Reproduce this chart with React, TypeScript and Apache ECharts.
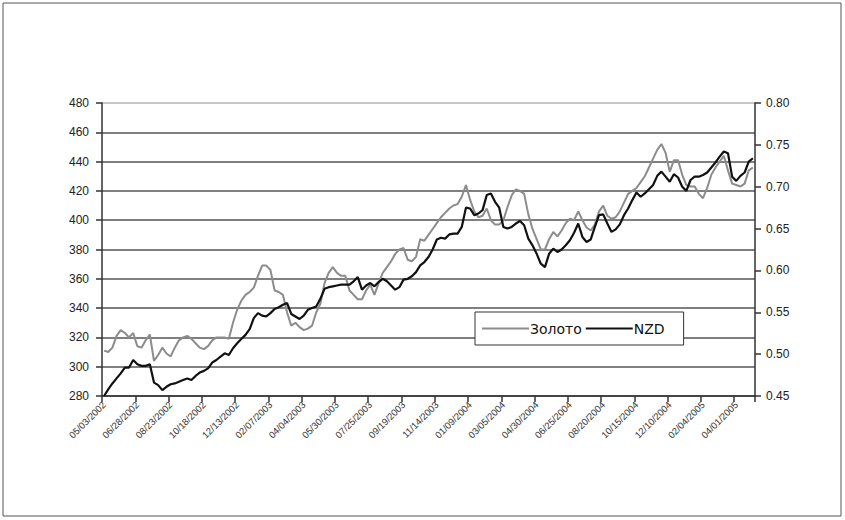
import React, { useEffect, useRef } from "react";
import * as echarts from "echarts";

// Weekly closing values, first week 05/03/2002
const gold: number[] = [
  311, 310, 313, 321, 325, 323, 320, 323, 314, 313,
  318, 322, 304, 308, 313, 309, 307, 313, 318, 320,
  321, 319, 316, 313, 312, 314, 318, 320, 320, 320,
  319, 330, 339, 345, 349, 351, 354, 362, 369, 369,
  366, 352, 351, 349, 337, 328, 330, 327, 325, 326,
  328, 337, 343, 357, 364, 368, 364, 362, 362, 352,
  349, 346, 346, 352, 356, 349, 357, 364, 368, 372,
  377, 380, 381, 373, 372, 375, 387, 386, 390, 394,
  398, 402, 405, 408, 410, 411, 416, 424, 414, 406,
  402, 403, 408, 400, 397, 397, 400, 409, 417, 421,
  420, 418, 404, 394, 387, 380, 380, 387, 392, 389,
  393, 398, 401, 400, 406, 400, 395, 393, 397, 406,
  410, 403, 401, 402, 406, 412, 418, 420, 422, 426,
  430, 436, 442, 448, 452, 446, 433, 441, 441, 431,
  424, 423, 423, 418, 415, 422, 431, 436, 440, 444,
  434, 425, 424, 423, 425, 434, 436,
];

const nzd: number[] = [
  0.450, 0.458, 0.465, 0.471, 0.477, 0.484, 0.484, 0.493, 0.488, 0.486,
  0.486, 0.488, 0.466, 0.463, 0.457, 0.461, 0.464, 0.465, 0.467, 0.469,
  0.471, 0.469, 0.474, 0.478, 0.480, 0.483, 0.490, 0.493, 0.497, 0.501,
  0.499, 0.507, 0.513, 0.518, 0.523, 0.530, 0.543, 0.549, 0.546, 0.545,
  0.549, 0.554, 0.556, 0.559, 0.561, 0.548, 0.545, 0.542, 0.546, 0.553,
  0.555, 0.557, 0.566, 0.578, 0.580, 0.581, 0.582, 0.583, 0.583, 0.583,
  0.587, 0.592, 0.577, 0.582, 0.585, 0.581, 0.586, 0.590, 0.587, 0.582,
  0.577, 0.580, 0.589, 0.590, 0.593, 0.598, 0.606, 0.610, 0.616, 0.625,
  0.637, 0.639, 0.638, 0.643, 0.644, 0.644, 0.652, 0.675, 0.674, 0.666,
  0.668, 0.672, 0.690, 0.692, 0.682, 0.675, 0.652, 0.650, 0.652, 0.656,
  0.659, 0.654, 0.638, 0.630, 0.620, 0.608, 0.604, 0.620, 0.626, 0.622,
  0.625, 0.630, 0.636, 0.645, 0.656, 0.640, 0.634, 0.637, 0.652, 0.666,
  0.667, 0.656, 0.646, 0.649, 0.655, 0.666, 0.674, 0.684, 0.693, 0.688,
  0.692, 0.697, 0.702, 0.713, 0.718, 0.712, 0.706, 0.715, 0.711, 0.700,
  0.695, 0.708, 0.712, 0.712, 0.714, 0.717, 0.723, 0.729, 0.736, 0.742,
  0.740, 0.712, 0.707, 0.713, 0.717, 0.730, 0.734,
];

const seriesNames = ["Золото", "NZD"];
const firstWeek = { year: 2002, month: 5, day: 3 };
const labelEvery = 8; // weeks between date labels

const pad = (n: number) => (n < 10 ? "0" + n : String(n));
const categories: string[] = gold.map((_, i) => {
  const d = new Date(Date.UTC(firstWeek.year, firstWeek.month - 1, firstWeek.day + i * 7));
  return `${pad(d.getUTCMonth() + 1)}/${pad(d.getUTCDate())}/${d.getUTCFullYear()}`;
});

const FONT = "'Liberation Sans', Arial, sans-serif";

export default function App() {
  const ref = useRef<HTMLDivElement>(null);

  useEffect(() => {
    document.body.style.margin = "0";
    if (!ref.current) return;
    const chart = echarts.init(ref.current, undefined, { renderer: "svg" });
    const splitColors = Array.from({ length: 11 }, (_, i) => (i === 10 ? "#b5b5b5" : "#555"));
    chart.setOption({
      animation: false,
      backgroundColor: "#fff",
      textStyle: { fontFamily: FONT },
      graphic: [
        {
          type: "rect",
          shape: { x: 3, y: 3, width: 838, height: 513 },
          style: { fill: "none", stroke: "#555", lineWidth: 1 },
          z: 0,
        },
      ],
      grid: { left: 102, top: 103, right: 90, bottom: 124, containLabel: false },
      legend: {
        left: 475,
        top: 312,
        orient: "horizontal",
        data: [
          { name: seriesNames[0], icon: "rect", itemStyle: { color: "#8c8c8c" } },
          { name: seriesNames[1], icon: "rect", itemStyle: { color: "#111" } },
        ],
        backgroundColor: "#fff",
        borderColor: "#333",
        borderWidth: 1,
        borderRadius: 0,
        padding: [8, 19, 8, 7],
        itemWidth: 47,
        itemHeight: 2,
        itemGap: 4,
        textStyle: {
          fontFamily: "'DejaVu Sans', sans-serif",
          fontSize: 14,
          color: "#111",
          lineHeight: 17,
          padding: [0, 0, 0, -4],
        },
      },
      xAxis: {
        type: "category",
        data: categories,
        boundaryGap: true,
        axisLine: { show: true, lineStyle: { color: "#333", width: 1.5 } },
        axisTick: { show: true, interval: labelEvery - 1, length: 6, lineStyle: { color: "#333", width: 1.5 } },
        axisLabel: {
          interval: labelEvery - 1,
          rotate: 45,
          fontSize: 9.5,
          color: "#333",
          margin: 7,
          fontFamily: FONT,
        },
        splitLine: { show: false },
      },
      yAxis: [
        {
          type: "value",
          min: 280,
          max: 480,
          interval: 20,
          position: "left",
          axisLine: { show: true, lineStyle: { color: "#333", width: 1.5 } },
          axisTick: { show: true, length: 6, lineStyle: { color: "#333", width: 1.5 } },
          axisLabel: { fontSize: 12, color: "#222", margin: 13, fontFamily: FONT },
          splitLine: { show: true, lineStyle: { color: splitColors, width: 1.5 } },
        },
        {
          type: "value",
          min: 0.45,
          max: 0.8,
          interval: 0.05,
          position: "right",
          axisLine: { show: true, lineStyle: { color: "#333", width: 1.5 } },
          axisTick: { show: true, length: 6, lineStyle: { color: "#333", width: 1.5 } },
          axisLabel: {
            fontSize: 12,
            color: "#222",
            margin: 11,
            fontFamily: FONT,
            formatter: (v: number) => v.toFixed(2),
          },
          splitLine: { show: false },
        },
      ],
      series: [
        {
          name: seriesNames[0],
          type: "line",
          yAxisIndex: 0,
          data: gold,
          symbol: "none",
          lineStyle: { color: "#8c8c8c", width: 2 },
          itemStyle: { color: "#8c8c8c" },
          z: 3,
        },
        {
          name: seriesNames[1],
          type: "line",
          yAxisIndex: 1,
          data: nzd,
          symbol: "none",
          lineStyle: { color: "#111", width: 2.2 },
          itemStyle: { color: "#111" },
          z: 4,
        },
      ],
    });
    return () => chart.dispose();
  }, []);

  return <div ref={ref} style={{ width: 845, height: 520 }} />;
}
